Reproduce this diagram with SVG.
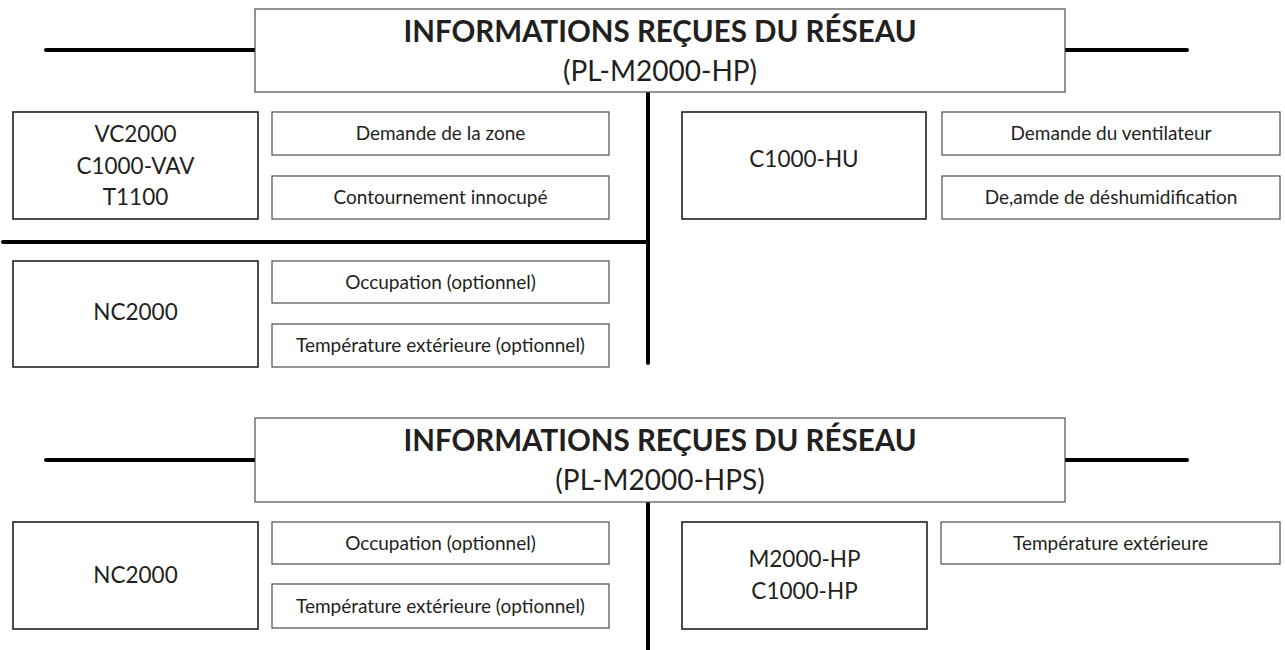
<svg xmlns="http://www.w3.org/2000/svg" width="1285" height="650" viewBox="0 0 1285 650">
<style>
.box{fill:#fff;stroke:#231f20;stroke-width:1.6}
.item{fill:#fff;stroke:#4d4d4f;stroke-width:1.2}
.hdr{fill:#fff;stroke:#4d4d4f;stroke-width:1.2}
.ln{stroke:#000;stroke-width:4;stroke-linecap:round;fill:none}
.t{font-family:Lato,"Open Sans",sans-serif;fill:#231f20;text-anchor:middle}
.h1{font-size:29.5px;font-weight:bold}
.h2{font-size:28px}
.n{font-size:22.5px}
.s{font-size:19px}
</style>
<rect width="1285" height="650" fill="#fff"/>
<g id="connectors">
<line class="ln" x1="46" y1="50" x2="255" y2="50"/>
<line class="ln" x1="1065" y1="50" x2="1187" y2="50"/>
<line class="ln" x1="648" y1="92" x2="648" y2="363"/>
<line class="ln" x1="3" y1="242" x2="648" y2="242"/>
<line class="ln" x1="46" y1="460" x2="255" y2="460"/>
<line class="ln" x1="1065" y1="460" x2="1187" y2="460"/>
<line class="ln" x1="648" y1="502" x2="648" y2="652"/>
</g>
<g id="header1">
<rect class="hdr" x="255" y="9" width="810" height="83"/>
<text class="t h1" x="660" y="42">INFORMATIONS REÇUES DU RÉSEAU</text>
<text class="t h2" x="660" y="81">(PL-M2000-HP)</text>
</g>
<g id="vc2000">
<rect class="box" x="13" y="112" width="245" height="107"/>
<text class="t n" x="135.5" y="142">VC2000</text>
<text class="t n" x="135.5" y="174">C1000-VAV</text>
<text class="t n" x="135.5" y="205">T1100</text>
</g>
<g id="demande-zone">
<rect class="item" x="272" y="112" width="337" height="43"/>
<text class="t s" x="440.5" y="140">Demande de la zone</text>
</g>
<g id="contournement">
<rect class="item" x="272" y="176" width="337" height="43"/>
<text class="t s" x="440.5" y="204">Contournement innocupé</text>
</g>
<g id="nc2000-a">
<rect class="box" x="13" y="261" width="245" height="106"/>
<text class="t n" x="135.5" y="320">NC2000</text>
</g>
<g id="occupation-a">
<rect class="item" x="272" y="261" width="337" height="42"/>
<text class="t s" x="440.5" y="288.5">Occupation (optionnel)</text>
</g>
<g id="temp-a">
<rect class="item" x="272" y="324" width="337" height="43"/>
<text class="t s" x="440.5" y="352">Température extérieure (optionnel)</text>
</g>
<g id="c1000-hu">
<rect class="box" x="682" y="112" width="244" height="107"/>
<text class="t n" x="804" y="167">C1000-HU</text>
</g>
<g id="demande-ventilateur">
<rect class="item" x="942" y="112" width="338" height="43"/>
<text class="t s" x="1111" y="140">Demande du ventilateur</text>
</g>
<g id="deshumidification">
<rect class="item" x="942" y="176" width="338" height="43"/>
<text class="t s" x="1111" y="204">De,amde de déshumidification</text>
</g>
<g id="header2">
<rect class="hdr" x="255" y="418" width="810" height="84"/>
<text class="t h1" x="660" y="451">INFORMATIONS REÇUES DU RÉSEAU</text>
<text class="t h2" x="660" y="490">(PL-M2000-HPS)</text>
</g>
<g id="nc2000-b">
<rect class="box" x="13" y="522" width="245" height="107"/>
<text class="t n" x="135.5" y="583">NC2000</text>
</g>
<g id="occupation-b">
<rect class="item" x="272" y="522" width="337" height="42"/>
<text class="t s" x="440.5" y="549.5">Occupation (optionnel)</text>
</g>
<g id="temp-b">
<rect class="item" x="272" y="584" width="337" height="44"/>
<text class="t s" x="440.5" y="612.5">Température extérieure (optionnel)</text>
</g>
<g id="m2000-hp">
<rect class="box" x="682" y="522" width="245" height="107"/>
<text class="t n" x="804.5" y="567">M2000-HP</text>
<text class="t n" x="804.5" y="599">C1000-HP</text>
</g>
<g id="temp-ext">
<rect class="item" x="941" y="522" width="339" height="42"/>
<text class="t s" x="1110.5" y="549.5">Température extérieure</text>
</g>
</svg>
